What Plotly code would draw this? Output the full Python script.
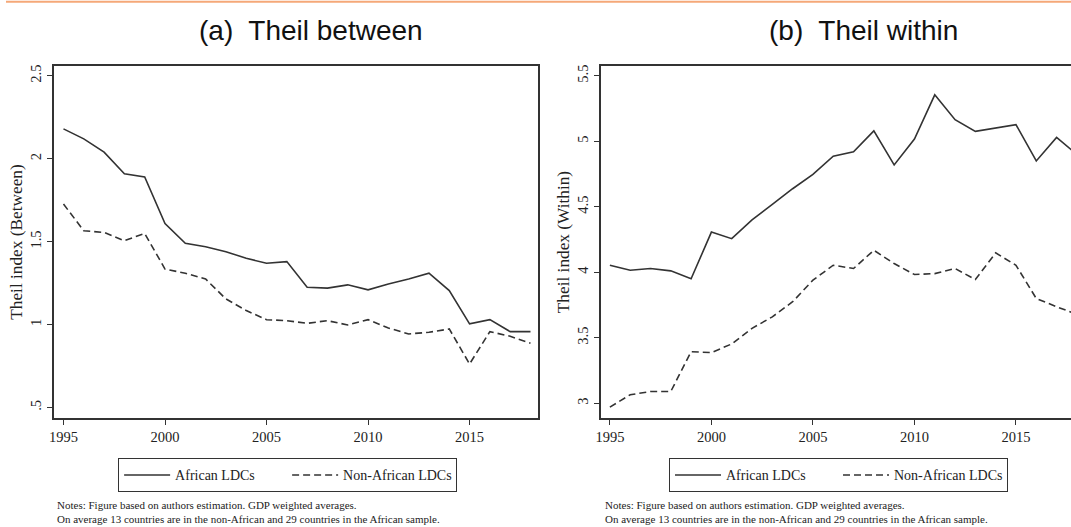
import plotly.graph_objects as go

years = list(range(1995, 2019))

between_african = [2.18, 2.12, 2.04, 1.91, 1.89, 1.61, 1.49, 1.47, 1.44, 1.40, 1.37, 1.38,
                   1.225, 1.22, 1.24, 1.21, 1.245, 1.275, 1.31, 1.205, 1.005, 1.03, 0.958, 0.958]
between_non_african = [1.727, 1.566, 1.556, 1.506, 1.55, 1.335, 1.31, 1.275, 1.155, 1.085, 1.03, 1.024,
                       1.008, 1.024, 0.998, 1.03, 0.98, 0.944, 0.954, 0.974, 0.763, 0.958, 0.93, 0.888]

within_african = [4.054, 4.016, 4.029, 4.011, 3.95, 4.307, 4.257, 4.40, 4.518, 4.638, 4.747, 4.886,
                  4.92, 5.08, 4.82, 5.018, 5.355, 5.165, 5.076, 5.10, 5.127, 4.85, 5.03, 4.90]
within_non_african = [2.971, 3.065, 3.09, 3.09, 3.394, 3.387, 3.453, 3.572, 3.66, 3.775, 3.94, 4.054,
                      4.029, 4.168, 4.067, 3.983, 3.99, 4.029, 3.945, 4.148, 4.054, 3.80, 3.737, 3.68]

x_ticks = [1995, 2000, 2005, 2010, 2015]
y1_ticks = [0.5, 1, 1.5, 2, 2.5]
y1_text = [".5", "1", "1.5", "2", "2.5"]
y2_ticks = [3, 3.5, 4, 4.5, 5, 5.5]
y2_text = ["3", "3.5", "4", "4.5", "5", "5.5"]

series_names = ["African LDCs", "Non-African LDCs"]
titles = ["(a)  Theil between", "(b)  Theil within"]
y_titles = ["Theil index (Between)", "Theil index (Within)"]
notes = "Notes: Figure based on authors estimation. GDP weighted averages.<br>On average 13 countries are in the non-African and 29 countries in the African sample."

W, H = 1071, 527
LINE = "#333333"
SERIF = "Liberation Serif, Times New Roman, serif"
SANS = "Liberation Sans, Arial, Helvetica, sans-serif"

def px(v):
    return v / W

def py(v):
    return 1 - v / H

fig = go.Figure()

solid = dict(color=LINE, width=1.6)
dashed = dict(color=LINE, width=1.6, dash="7px,4px")

fig.add_trace(go.Scatter(x=years, y=between_african, mode="lines", name=series_names[0],
                         line=solid, xaxis="x", yaxis="y", legend="legend"))
fig.add_trace(go.Scatter(x=years, y=between_non_african, mode="lines", name=series_names[1],
                         line=dashed, xaxis="x", yaxis="y", legend="legend"))
fig.add_trace(go.Scatter(x=years, y=within_african, mode="lines", name=series_names[0],
                         line=solid, xaxis="x2", yaxis="y2", legend="legend2"))
fig.add_trace(go.Scatter(x=years, y=within_non_african, mode="lines", name=series_names[1],
                         line=dashed, xaxis="x2", yaxis="y2", legend="legend2"))

axis_common = dict(showgrid=False, zeroline=False, showline=True, linecolor=LINE, linewidth=1.5,
                   ticks="outside", ticklen=5, tickcolor=LINE, tickwidth=1.2,
                   tickfont=dict(family=SERIF, size=14.5, color="#222"))

ydom = [py(418), py(65)]
ytitle_font = dict(family=SERIF, size=17.3, color="#222")
legend_common = dict(orientation="h", y=py(458), yanchor="top", xanchor="center",
                     bordercolor=LINE, borderwidth=1.2, bgcolor="white",
                     font=dict(family=SERIF, size=14, color="#222"), itemwidth=46,
                     entrywidth=107, entrywidthmode="pixels")

fig.update_layout(
    width=W, height=H,
    margin=dict(l=0, r=0, t=0, b=0),
    paper_bgcolor="white", plot_bgcolor="white",
    xaxis=dict(domain=[px(48), px(535)], range=[1994.52, 2018.37], tickvals=x_ticks,
               mirror=True, anchor="y", **axis_common),
    yaxis=dict(domain=ydom, range=[0.436, 2.56], tickvals=y1_ticks, ticktext=y1_text,
               tickangle=-90, mirror=True, anchor="x",
               title=dict(text=y_titles[0], font=ytitle_font, standoff=1),
               **axis_common),
    xaxis2=dict(domain=[px(598.3), 1.0], range=[1994.56, 2017.71], tickvals=x_ticks,
                mirror=True, anchor="y2", **axis_common),
    yaxis2=dict(domain=ydom, range=[2.886, 5.576], tickvals=y2_ticks, ticktext=y2_text,
                tickangle=-90, anchor="x2",
                title=dict(text=y_titles[1], font=ytitle_font, standoff=1),
                **axis_common),
    legend=dict(x=px(283), **legend_common),
    legend2=dict(x=px(837), **legend_common),
    showlegend=True,
)

# orange rule at top
fig.add_shape(type="line", xref="paper", yref="paper", x0=0, x1=1, y0=py(0.8), y1=py(0.8),
              line=dict(color="#f5a878", width=2))

for cx, t in zip([307, 862], titles):
    fig.add_annotation(text=t, xref="paper", yref="paper", x=px(cx), y=py(30),
                       xanchor="center", yanchor="middle", showarrow=False,
                       font=dict(family=SANS, size=28, color="#111"))

for lx in [49, 600]:
    fig.add_annotation(text=notes, xref="paper", yref="paper", x=px(lx), y=py(497),
                       xanchor="left", yanchor="top", align="left", showarrow=False,
                       font=dict(family=SERIF, size=11, color="#222"))

fig.write_html("out.html", config={"displayModeBar": False},
               post_script="document.body.style.margin='0';document.body.style.padding='0';")
